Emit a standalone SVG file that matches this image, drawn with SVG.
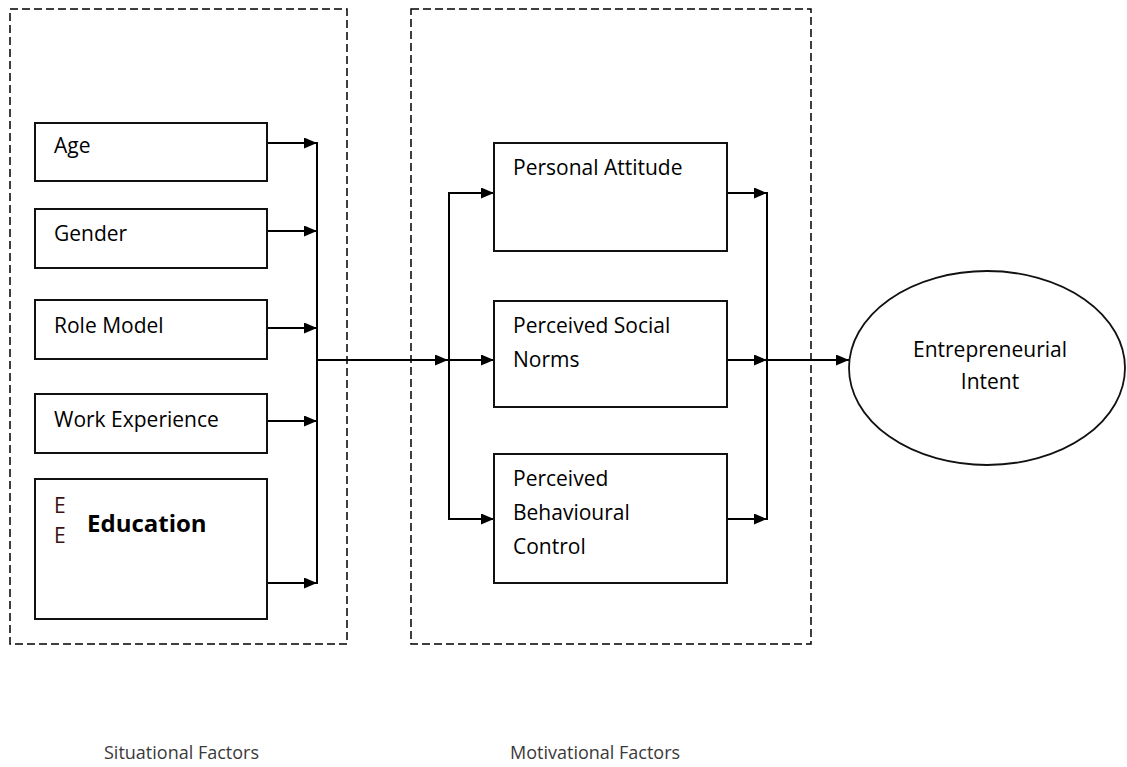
<svg xmlns="http://www.w3.org/2000/svg" width="1127" height="767" viewBox="0 0 1127 767">
<defs>
<marker id="arr" markerUnits="userSpaceOnUse" markerWidth="14" markerHeight="11" refX="13" refY="5.5" orient="auto">
<path d="M0,0 L13,5.5 L0,11 z" fill="#000"/>
</marker>
<style>
.frame{fill:none;stroke:#000;stroke-width:1.5;stroke-dasharray:8 4}
.box{fill:#fff;stroke:#111;stroke-width:2}
.lbl{font-family:"Open Sans","Noto Sans",sans-serif;font-size:21px;fill:#000}
.bold{font-family:"Open Sans","Noto Sans",sans-serif;font-size:24px;font-weight:bold;fill:#000}
.cap{font-family:"Open Sans","Noto Sans",sans-serif;font-size:18px;fill:#3a3a3a}
.con{fill:none;stroke:#000;stroke-width:2}
.arr{marker-end:url(#arr)}
</style>
</defs>
<rect width="1127" height="767" fill="#fff"/>

<g id="situational-frame">
<rect class="frame" x="10" y="9" width="337" height="635"/>
</g>
<g id="motivational-frame">
<rect class="frame" x="411" y="9" width="400" height="635"/>
</g>

<g id="connectors">
<line class="con arr" x1="267" y1="143" x2="317" y2="143"/>
<line class="con arr" x1="267" y1="231" x2="317" y2="231"/>
<line class="con arr" x1="267" y1="328" x2="317" y2="328"/>
<line class="con arr" x1="267" y1="421" x2="317" y2="421"/>
<line class="con arr" x1="267" y1="583" x2="317" y2="583"/>
<line class="con" x1="317" y1="142" x2="317" y2="584"/>
<line class="con arr" x1="317" y1="360" x2="448" y2="360"/>
<line class="con" x1="449" y1="192" x2="449" y2="520"/>
<line class="con arr" x1="449" y1="193" x2="494" y2="193"/>
<line class="con arr" x1="449" y1="360" x2="494" y2="360"/>
<line class="con arr" x1="449" y1="519" x2="494" y2="519"/>
<line class="con arr" x1="727" y1="193" x2="767" y2="193"/>
<line class="con arr" x1="727" y1="360" x2="767" y2="360"/>
<line class="con arr" x1="727" y1="519" x2="767" y2="519"/>
<line class="con" x1="767" y1="192" x2="767" y2="520"/>
<line class="con arr" x1="767" y1="360" x2="849" y2="360"/>
</g>

<g id="age">
<rect class="box" x="35" y="123" width="232" height="58"/>
<text class="lbl" x="54" y="153">Age</text>
</g>
<g id="gender">
<rect class="box" x="35" y="209" width="232" height="59"/>
<text class="lbl" x="54" y="241">Gender</text>
</g>
<g id="role-model">
<rect class="box" x="35" y="300" width="232" height="59"/>
<text class="lbl" x="54" y="333">Role Model</text>
</g>
<g id="work-experience">
<rect class="box" x="35" y="394" width="232" height="59"/>
<text class="lbl" x="54" y="427">Work Experience</text>
</g>
<g id="education">
<rect class="box" x="35" y="479" width="232" height="140"/>
<text class="lbl" x="54" y="513" style="fill:#3a1212">E</text>
<text class="lbl" x="54" y="543" style="fill:#3a1212">E</text>
<text class="bold" x="87" y="532">Education</text>
</g>

<g id="personal-attitude">
<rect class="box" x="494" y="143" width="233" height="108"/>
<text class="lbl" x="513" y="175">Personal Attitude</text>
</g>
<g id="perceived-social-norms">
<rect class="box" x="494" y="301" width="233" height="106"/>
<text class="lbl" x="513" y="333">Perceived Social</text>
<text class="lbl" x="513" y="367">Norms</text>
</g>
<g id="perceived-behavioural-control">
<rect class="box" x="494" y="454" width="233" height="129"/>
<text class="lbl" x="513" y="486">Perceived</text>
<text class="lbl" x="513" y="520">Behavioural</text>
<text class="lbl" x="513" y="554">Control</text>
</g>

<g id="entrepreneurial-intent">
<ellipse cx="987" cy="368" rx="138" ry="97" fill="#fff" stroke="#111" stroke-width="1.8"/>
<text class="lbl" x="990" y="357" text-anchor="middle">Entrepreneurial</text>
<text class="lbl" x="990" y="389" text-anchor="middle">Intent</text>
</g>

<g id="captions">
<text class="cap" x="104" y="759">Situational Factors</text>
<text class="cap" x="510" y="759">Motivational Factors</text>
</g>
</svg>
